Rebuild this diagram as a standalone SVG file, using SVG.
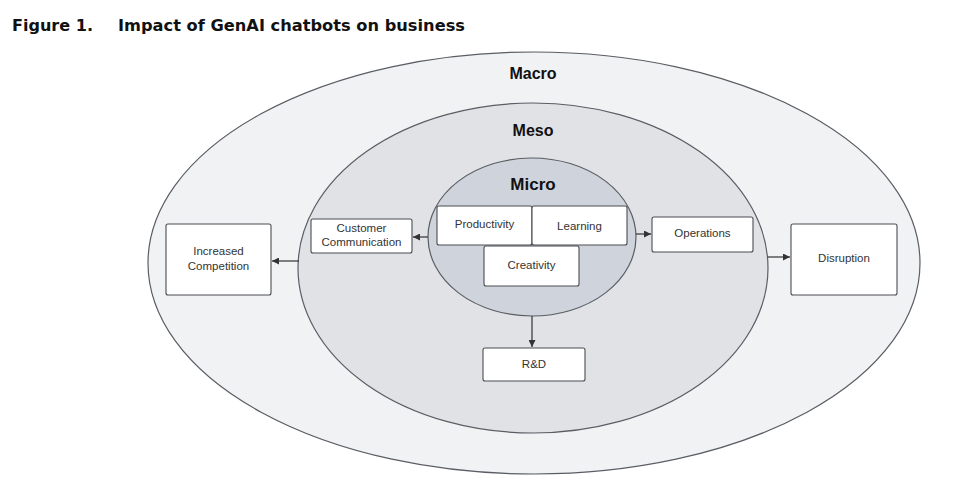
<svg xmlns="http://www.w3.org/2000/svg" width="977" height="495" viewBox="0 0 977 495">
<defs>
<style>
.ring{stroke:#5a5d63;stroke-width:1.2}
.box{fill:#fff;stroke:#4a4d52;stroke-width:1.1}
.lbl{font-family:"Liberation Sans",Arial,sans-serif;font-size:11.5px;fill:#333;text-anchor:middle}
.lvl{font-family:"Liberation Sans",Arial,sans-serif;font-weight:bold;font-size:16px;fill:#111;text-anchor:middle}
.con{stroke:#333;stroke-width:1.2;fill:none;marker-end:url(#ah)}
</style>
<marker id="ah" viewBox="0 0 10 10" refX="10" refY="5" markerWidth="7" markerHeight="7" markerUnits="userSpaceOnUse" orient="auto">
<path d="M0,0L10,5L0,10z" fill="#333"/>
</marker>
</defs>
<rect width="977" height="495" fill="#fff"/>
<text x="12" y="31" font-family="DejaVu Sans,Verdana,sans-serif" font-weight="bold" font-size="15" fill="#111" textLength="81" lengthAdjust="spacingAndGlyphs">Figure 1.</text>
<text x="118" y="31" font-family="DejaVu Sans,Verdana,sans-serif" font-weight="bold" font-size="15" fill="#111" textLength="347" lengthAdjust="spacingAndGlyphs">Impact of GenAI chatbots on business</text>
<g id="macro"><ellipse class="ring" cx="534" cy="263" rx="386" ry="211" fill="#f1f2f4"/><text class="lvl" x="533" y="79">Macro</text></g>
<g id="meso"><ellipse class="ring" cx="533" cy="268" rx="235" ry="165" fill="#e0e2e6"/><text class="lvl" x="533" y="136">Meso</text></g>
<g id="micro"><ellipse class="ring" cx="532" cy="237" rx="104" ry="79" fill="#cfd4dc"/><text class="lvl" x="533" y="190" style="font-size:17px">Micro</text></g>
<g id="connectors">
<line class="con" x1="428" y1="237" x2="413" y2="237"/>
<line class="con" x1="299" y1="261" x2="272" y2="261"/>
<line class="con" x1="636" y1="234" x2="651" y2="234"/>
<line class="con" x1="768" y1="257" x2="790" y2="257"/>
<line class="con" x1="532" y1="316" x2="532" y2="347"/>
</g>
<g id="productivity"><rect class="box" x="437" y="206" width="95" height="39" rx="2"/><text class="lbl" x="484.5" y="228">Productivity</text></g>
<g id="learning"><rect class="box" x="532" y="206" width="95" height="39" rx="2"/><text class="lbl" x="579.5" y="230">Learning</text></g>
<g id="creativity"><rect class="box" x="484" y="246" width="95" height="40" rx="2"/><text class="lbl" x="531.5" y="269">Creativity</text></g>
<g id="customer"><rect class="box" x="311" y="219" width="101" height="34" rx="2"/><text class="lbl" x="361.5" y="232">Customer</text><text class="lbl" x="361.5" y="246">Communication</text></g>
<g id="competition"><rect class="box" x="166" y="224" width="105" height="71" rx="2"/><text class="lbl" x="218.5" y="255">Increased</text><text class="lbl" x="218.5" y="270">Competition</text></g>
<g id="operations"><rect class="box" x="652" y="217" width="101" height="35" rx="2"/><text class="lbl" x="702.5" y="237">Operations</text></g>
<g id="disruption"><rect class="box" x="791" y="224" width="106" height="71" rx="2"/><text class="lbl" x="844" y="262">Disruption</text></g>
<g id="rd"><rect class="box" x="483" y="348" width="102" height="33" rx="2"/><text class="lbl" x="534" y="368">R&amp;D</text></g>
</svg>
